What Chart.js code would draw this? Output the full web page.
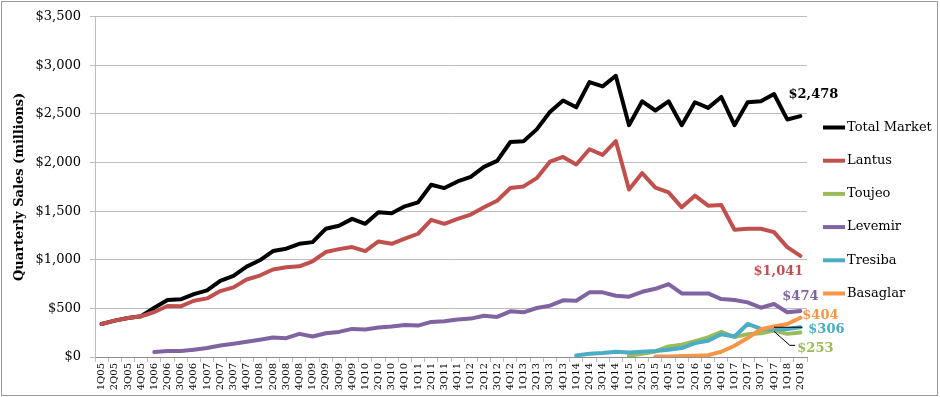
<!DOCTYPE html>
<html>
<head>
<meta charset="utf-8">
<script src="https://cdn.jsdelivr.net/npm/chart.js@4.4.1/dist/chart.umd.min.js"></script>
<style>
  html, body { margin: 0; padding: 0; background: #fff; }
  #wrap { width: 940px; height: 397px; position: relative; }
</style>
</head>
<body>
<div id="wrap"><canvas id="chart" width="940" height="397"></canvas></div>
<script>
// ---------- data (quarterly sales, $ millions) ----------
const quarters = [
  "1Q05","2Q05","3Q05","4Q05","1Q06","2Q06","3Q06","4Q06","1Q07","2Q07","3Q07","4Q07",
  "1Q08","2Q08","3Q08","4Q08","1Q09","2Q09","3Q09","4Q09","1Q10","2Q10","3Q10","4Q10",
  "1Q11","2Q11","3Q11","4Q11","1Q12","2Q12","3Q12","4Q12","1Q13","2Q13","3Q13","4Q13",
  "1Q14","2Q14","3Q14","4Q14","1Q15","2Q15","3Q15","4Q15","1Q16","2Q16","3Q16","4Q16",
  "1Q17","2Q17","3Q17","4Q17","1Q18","2Q18"
];

const totalMarket = [
  340, 374, 402, 419, 507, 586, 593, 647, 685, 783, 834, 930,
  995, 1090, 1114, 1165, 1182, 1319, 1350, 1421, 1370, 1489, 1479, 1550,
  1591, 1772, 1738, 1806, 1854, 1956, 2017, 2212, 2219, 2342, 2521, 2638,
  2569, 2828, 2784, 2893, 2385, 2631, 2536, 2631, 2385, 2621, 2563, 2675,
  2385, 2621, 2631, 2706, 2444, 2478
];

const lantus = [
  340, 374, 402, 419, 463, 525, 521, 579, 603, 678, 716, 797,
  838, 900, 923, 933, 985, 1080, 1110, 1131, 1090, 1189, 1165, 1217,
  1268, 1411, 1370, 1421, 1465, 1540, 1608, 1738, 1755, 1840, 2010, 2058,
  1980, 2137, 2079, 2222, 1723, 1892, 1742, 1694, 1540, 1660, 1557, 1564,
  1309, 1319, 1319, 1285, 1131, 1041
];

const toujeo = [
  null, null, null, null, null, null, null, null, null, null, null, null,
  null, null, null, null, null, null, null, null, null, null, null, null,
  null, null, null, null, null, null, null, null, null, null, null, null,
  null, null, null, null, 13, 34, 57, 109, 126, 163, 201, 259,
  204, 235, 245, 272, 238, 253
];

const levemir = [
  null, null, null, null, 51, 61, 61, 75, 92, 119, 136, 156,
  177, 201, 194, 238, 211, 245, 258, 289, 282, 303, 313, 330,
  323, 361, 368, 385, 395, 425, 412, 470, 460, 504, 528, 583,
  579, 665, 665, 630, 620, 671, 702, 750, 654, 654, 654, 596,
  586, 562, 507, 545, 460, 474
];

const tresiba = [
  null, null, null, null, null, null, null, null, null, null, null, null,
  null, null, null, null, null, null, null, null, null, null, null, null,
  null, null, null, null, null, null, null, null, null, null, null, null,
  16, 34, 41, 54, 47, 54, 61, 75, 92, 143, 167, 235,
  211, 340, 289, 282, 288, 306
];

const basaglar = [
  null, null, null, null, null, null, null, null, null, null, null, null,
  null, null, null, null, null, null, null, null, null, null, null, null,
  null, null, null, null, null, null, null, null, null, null, null, null,
  null, null, null, null, null, null, 6, 6, 10, 13, 19, 54,
  116, 195, 286, 313, 340, 404
];

const yTicks = [0, 500, 1000, 1500, 2000, 2500, 3000, 3500];

// ---------- look ----------
const FONT = "'DejaVu Serif', Georgia, serif";
const GRID = "#bcbcbc";

const series = [
  { label: "Total Market", data: totalMarket, color: "#000000", tag: { dx: 13, dy: -22 } },
  { label: "Lantus",       data: lantus,      color: "#c0504d", tag: { dx: -22, dy: 16 } },
  { label: "Toujeo",       data: toujeo,      color: "#9bbb59", tag: { dx: 15, dy: 16 } },
  { label: "Levemir",      data: levemir,     color: "#8064a2", tag: { dx: 0, dy: -14 } },
  { label: "Tresiba",      data: tresiba,     color: "#4bacc6", tag: { dx: 26, dy: 2 } },
  { label: "Basaglar",     data: basaglar,    color: "#f79646", tag: { dx: 20, dy: -2 } }
];

function money(v) {
  return "$" + Number(v).toLocaleString("en-US");
}

// legend, end-of-line value tags, leader lines and outer frame
const extrasPlugin = {
  id: "extras",
  afterDraw(chart) {
    const c = chart.ctx;
    const x = chart.scales.x;
    const y = chart.scales.y;
    const last = quarters.length - 1;

    c.save();

    // thin leader lines next to the small series labels
    c.strokeStyle = "#000";
    c.lineWidth = 1;
    c.beginPath();
    c.moveTo(x.getPixelForValue(last - 2), y.getPixelForValue(tresiba[last]));
    c.lineTo(x.getPixelForValue(last) + 2, y.getPixelForValue(tresiba[last]));
    c.stroke();
    c.beginPath();
    c.moveTo(x.getPixelForValue(last - 2), y.getPixelForValue(toujeo[last] + 10));
    c.lineTo(x.getPixelForValue(last - 0.8), y.getPixelForValue(toujeo[last] - 133));
    c.lineTo(x.getPixelForValue(last - 0.4), y.getPixelForValue(toujeo[last] - 133));
    c.stroke();

    // value tags at the last quarter
    c.font = "bold 13px " + FONT;
    c.textAlign = "center";
    c.textBaseline = "middle";
    series.forEach((s) => {
      const v = s.data[last];
      c.fillStyle = s.color;
      c.fillText(money(v), x.getPixelForValue(last) + s.tag.dx, y.getPixelForValue(v) + s.tag.dy);
    });

    // legend on the right
    const lx = chart.chartArea.right + 16;
    let ly = 127.5;
    c.font = "13px " + FONT;
    c.textAlign = "left";
    series.forEach((s) => {
      c.strokeStyle = s.color;
      c.lineWidth = 4;
      c.beginPath();
      c.moveTo(lx, ly);
      c.lineTo(lx + 22, ly);
      c.stroke();
      c.fillStyle = "#000";
      c.fillText(s.label, lx + 24, ly);
      ly += 33.2;
    });

    // chart frame
    c.strokeStyle = "#9a9a9a";
    c.lineWidth = 1;
    c.strokeRect(1.5, 1.5, 936, 394);

    c.restore();
  }
};

new Chart(document.getElementById("chart"), {
  type: "line",
  data: {
    labels: quarters,
    datasets: series.map((s, i) => ({
      label: s.label,
      data: s.data,
      borderColor: s.color,
      backgroundColor: s.color,
      borderWidth: 4,
      pointRadius: 0,
      tension: 0,
      fill: false,
      spanGaps: false,
      borderJoinStyle: "round",
      borderCapStyle: "round",
      order: series.length - i
    }))
  },
  options: {
    responsive: false,
    animation: false,
    events: [],
    layout: { padding: { left: 0, right: 133, top: 15, bottom: 0 } },
    plugins: {
      legend: { display: false },
      tooltip: { enabled: false }
    },
    scales: {
      x: {
        type: "category",
        offset: true,
        grid: {
          offset: true,
          drawOnChartArea: false,
          drawTicks: true,
          tickLength: 5,
          color: GRID
        },
        border: { display: true, color: "#8c8c8c" },
        ticks: {
          autoSkip: false,
          minRotation: 90,
          maxRotation: 90,
          padding: 1,
          color: "#000",
          font: { family: FONT, size: 10 }
        },
        afterFit(scale) { scale.height = 40; }
      },
      y: {
        min: 0,
        max: 3500,
        afterBuildTicks(scale) { scale.ticks = yTicks.map((v) => ({ value: v })); },
        grid: { color: GRID, tickLength: 5, drawTicks: true },
        border: { display: true, color: GRID },
        ticks: {
          padding: 9,
          color: "#000",
          font: { family: FONT, size: 13 },
          callback: (v) => money(v)
        },
        title: {
          display: true,
          text: "Quarterly Sales (millions)",
          color: "#000",
          font: { family: FONT, size: 13, weight: "bold" },
          padding: { top: 12, bottom: 0 }
        },
        afterFit(scale) { scale.width = 95; }
      }
    }
  },
  plugins: [extrasPlugin]
});
</script>
</body>
</html>
